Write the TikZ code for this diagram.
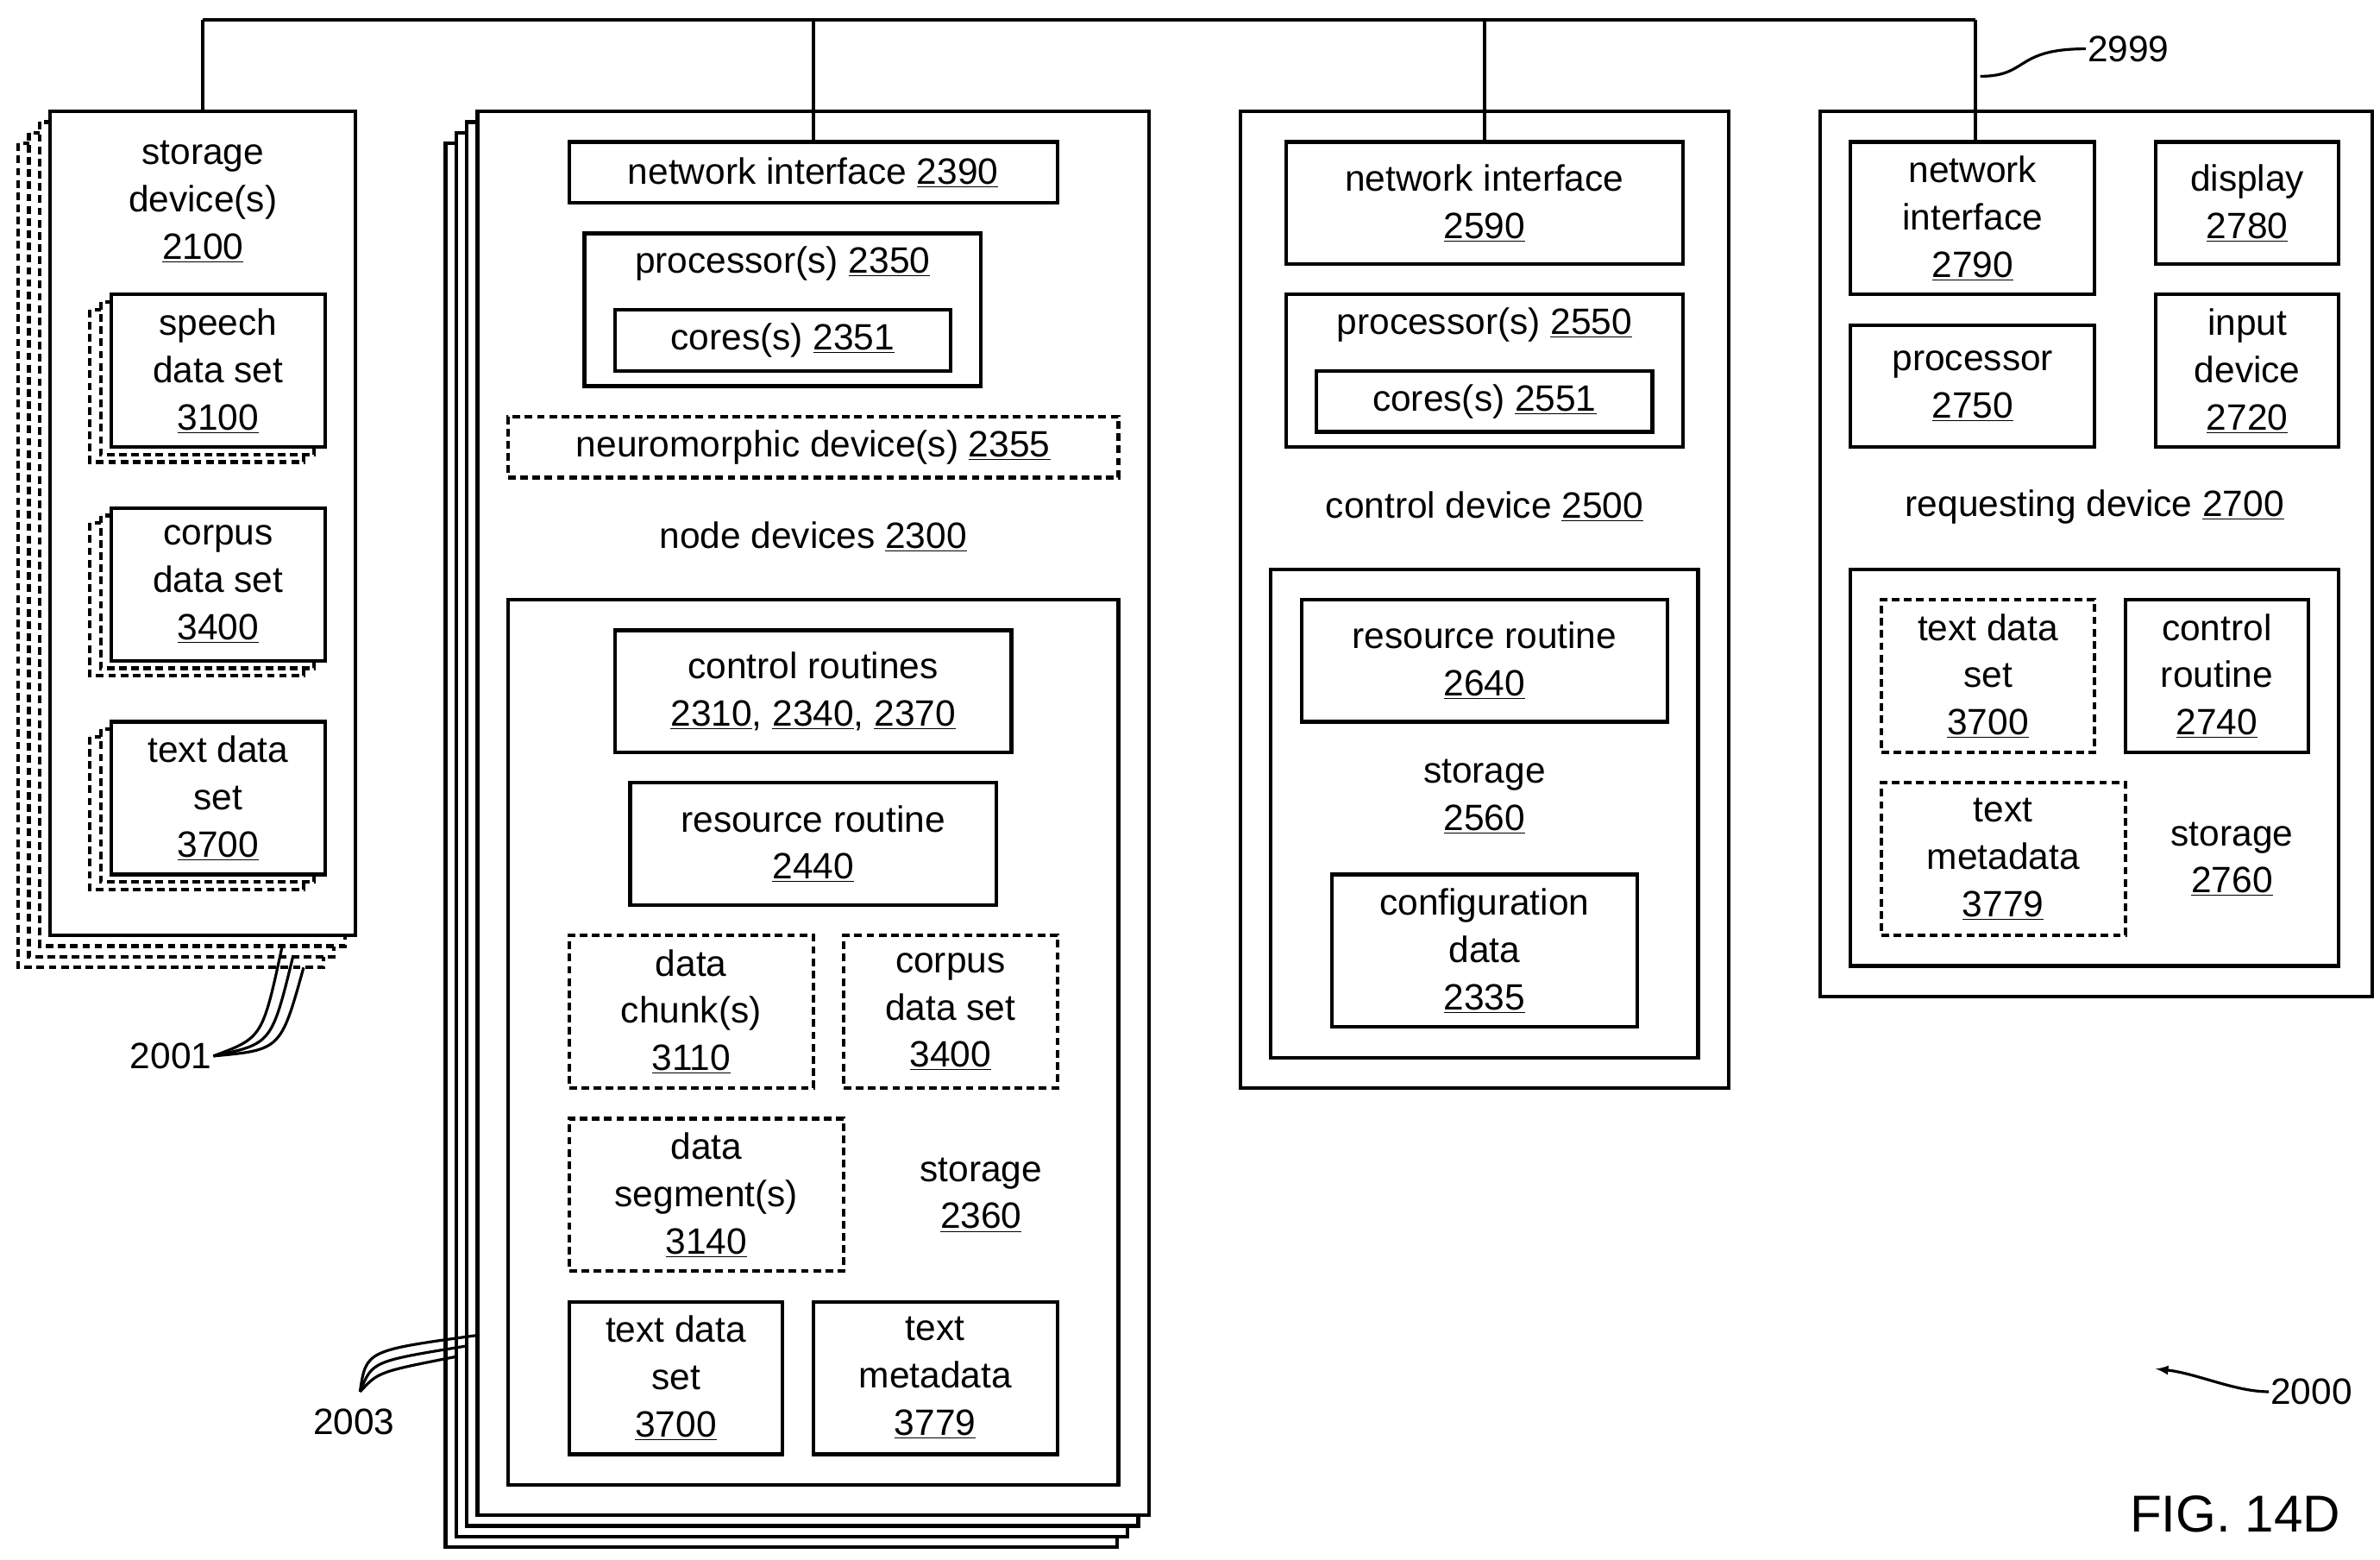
\documentclass[tikz,border=0pt]{standalone}
\usepackage{fontspec}
\setmainfont{Liberation Sans}
\begin{document}
\begin{tikzpicture}[x=1pt,y=-1pt,line width=2.4pt]
\tikzset{
   box/.style = {rectangle, draw, line width = 2.4pt, fill = white, inner sep = 0pt, align = center, font = \fontsize{24}{31}\selectfont},
   dbox/.style = {box, dash pattern = on 5pt off 3pt},
   txt/.style = {inner sep = 0pt, align = center, font = \fontsize{24}{31}\selectfont},
   shadow/.style = {draw, line width = 2.4pt, fill = white, dash pattern = on 5pt off 3pt},
   leader/.style = {line width = 1.8pt}
}
\useasboundingbox (0,0) rectangle (1560,1022);

% bus
\coordinate (bus_l) at (133,13);
\coordinate (bus_r) at (1295,13);
\draw (bus_l) -- (bus_r);

% storage devices 2100
\foreach \d in {21,14,7} {
  \draw[shadow] (33-\d,73+\d) rectangle (233-\d,613+\d);
}
\node[box, minimum width = 200pt, minimum height = 540pt] (storage_dev) at (133,343) {};
\node[txt] (storage_dev_lbl) at (133,132) {storage\\device(s)\\\underline{2100}};
\foreach \cy in {243,383,523} {
  \foreach \d in {14,7} {
    \draw[shadow] (73-\d,\cy-50+\d*0.7) rectangle (213-\d,\cy+50+\d*0.7);
  }
}
\node[box, minimum width = 140pt, minimum height = 100pt] (speech) at (143,243) {speech\\data set\\\underline{3100}};
\node[box, minimum width = 140pt, minimum height = 100pt] (corpus_sd) at (143,383) {corpus\\data set\\\underline{3400}};
\node[box, minimum width = 140pt, minimum height = 100pt] (text_sd) at (143,523) {text data\\set\\\underline{3700}};
\draw (bus_l) -- (storage_dev.north);

\node[txt] (lbl_2001) at (112,692) {2001};
\draw[leader] (lbl_2001.east) .. controls (172,680) .. (185,620);
\draw[leader] (lbl_2001.east) .. controls (178,684) .. (192,627);
\draw[leader] (lbl_2001.east) .. controls (184,688) .. (199,634);

% node devices 2300
\foreach \d in {21,14,7} {
  \draw[fill = white] (313-\d,73+\d) rectangle (753-\d,993+\d);
}
\node[box, minimum width = 440pt, minimum height = 920pt] (node_dev) at (533,533) {};
\node[box, minimum width = 320pt, minimum height = 40pt] (net_2390) at (533,113) {network interface \underline{2390}};
\node[box, minimum width = 260pt, minimum height = 100pt] (proc_2350) at (513,203) {};
\node[txt] (proc_2350_lbl) at (513,173) {processor(s) \underline{2350}};
\node[box, minimum width = 220pt, minimum height = 40pt] (cores_2351) at (513,223) {cores(s) \underline{2351}};
\node[dbox, minimum width = 400pt, minimum height = 40pt] (neuro) at (533,293) {neuromorphic device(s) \underline{2355}};
\node[txt] (node_dev_lbl) at (533,352) {node devices \underline{2300}};
\node[box, minimum width = 400pt, minimum height = 580pt] (storage_2360) at (533,683) {};
\node[box, minimum width = 260pt, minimum height = 80pt] (ctrl_rout) at (533,453) {control routines\\\underline{2310}, \underline{2340}, \underline{2370}};
\node[box, minimum width = 240pt, minimum height = 80pt] (res_2440) at (533,553) {resource routine\\\underline{2440}};
\node[dbox, minimum width = 160pt, minimum height = 100pt] (chunk) at (453,663) {data\\chunk(s)\\\underline{3110}};
\node[dbox, minimum width = 140pt, minimum height = 100pt] (corpus_n) at (623,663) {corpus\\data set\\\underline{3400}};
\node[dbox, minimum width = 180pt, minimum height = 100pt] (segment) at (463,783) {data\\segment(s)\\\underline{3140}};
\node[txt] (storage_2360_lbl) at (643,783) {storage\\\underline{2360}};
\node[box, minimum width = 140pt, minimum height = 100pt] (text_n) at (443,903) {text data\\set\\\underline{3700}};
\node[box, minimum width = 160pt, minimum height = 100pt] (meta_n) at (613,903) {text\\metadata\\\underline{3779}};
\draw (533,13) -- (net_2390.north);

\node[txt] (lbl_2003) at (232,932) {2003};
\coordinate (tail_2003) at (236,912);
\draw[leader] (tail_2003) .. controls (240,885) .. (313,875);
\draw[leader] (tail_2003) .. controls (244,892) .. (306,882);
\draw[leader] (tail_2003) .. controls (248,899) .. (299,889);

% control device 2500
\node[box, minimum width = 320pt, minimum height = 640pt] (ctrl_dev) at (973,393) {};
\node[box, minimum width = 260pt, minimum height = 80pt] (net_2590) at (973,133) {network interface\\\underline{2590}};
\node[box, minimum width = 260pt, minimum height = 100pt] (proc_2550) at (973,243) {};
\node[txt] (proc_2550_lbl) at (973,213) {processor(s) \underline{2550}};
\node[box, minimum width = 220pt, minimum height = 40pt] (cores_2551) at (973,263) {cores(s) \underline{2551}};
\node[txt] (ctrl_dev_lbl) at (973,332) {control device \underline{2500}};
\node[box, minimum width = 280pt, minimum height = 320pt] (storage_2560) at (973,533) {};
\node[box, minimum width = 240pt, minimum height = 80pt] (res_2640) at (973,433) {resource routine\\\underline{2640}};
\node[txt] (storage_2560_lbl) at (973,522) {storage\\\underline{2560}};
\node[box, minimum width = 200pt, minimum height = 100pt] (config) at (973,623) {configuration\\data\\\underline{2335}};
\draw (973,13) -- (net_2590.north);

% requesting device 2700
\node[box, minimum width = 362pt, minimum height = 580pt] (req_dev) at (1374,363) {};
\node[box, minimum width = 160pt, minimum height = 100pt] (net_2790) at (1293,143) {network\\interface\\\underline{2790}};
\node[box, minimum width = 120pt, minimum height = 80pt] (display) at (1473,133) {display\\\underline{2780}};
\node[box, minimum width = 160pt, minimum height = 80pt] (proc_2750) at (1293,253) {processor\\\underline{2750}};
\node[box, minimum width = 120pt, minimum height = 100pt] (input) at (1473,243) {input\\device\\\underline{2720}};
\node[txt] (req_dev_lbl) at (1373,332) {requesting device \underline{2700}};
\node[box, minimum width = 320pt, minimum height = 260pt] (storage_2760) at (1373,503) {};
\node[dbox, minimum width = 140pt, minimum height = 100pt] (text_r) at (1303,443) {text data\\set\\\underline{3700}};
\node[box, minimum width = 120pt, minimum height = 100pt] (ctrl_2740) at (1453,443) {control\\routine\\\underline{2740}};
\node[dbox, minimum width = 160pt, minimum height = 100pt] (meta_r) at (1313,563) {text\\metadata\\\underline{3779}};
\node[txt] (storage_2760_lbl) at (1463,563) {storage\\\underline{2760}};
\draw (bus_r) -- (bus_r |- net_2790.north);

% labels
\node[txt] (lbl_2999) at (1395,32) {2999};
\draw[leader] (1298,50) .. controls (1330,50) and (1320,32) .. (lbl_2999.west);
\node[txt] (lbl_2000) at (1515,912) {2000};
\coordinate (tip_2000) at (1413,897);
\draw[leader, -latex] (lbl_2000.west) .. controls (1465,912) and (1440,900) .. (tip_2000);
\node[inner sep = 0pt, font = \fontsize{34}{40}\selectfont] (fig) at (1465,992) {FIG. 14D};
\end{tikzpicture}
\end{document}
